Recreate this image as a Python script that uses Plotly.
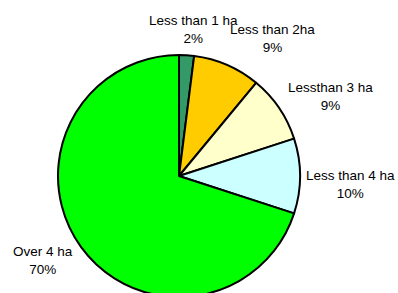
import plotly.graph_objects as go

# Data
categories = ["Less than 1 ha", "Less than 2ha", "Lessthan 3 ha", "Less than 4 ha", "Over 4 ha"]
shares = [2, 9, 9, 10, 70]

# Styling / layout (kept separate from data)
colors = ["#339966", "#FFCC00", "#FFFFCC", "#CCFFFF", "#00FF00"]
W, H = 398, 297
# label block centres in pixels (x from left, y from top)
label_px = [(193, 29), (272, 39), (330, 96), (350, 184), (43, 260)]

# pie domain (pixels): centre (179,176), radius 121
cx, cy, r = 179, 176, 121
dom_x = [(cx - r) / W, (cx + r) / W]
dom_y = [1 - (cy + r) / H, 1 - (cy - r) / H]

fig = go.Figure(go.Pie(
    labels=categories,
    values=shares,
    sort=False,
    direction="clockwise",
    rotation=0,
    textinfo="none",
    hoverinfo="label+percent",
    marker=dict(colors=colors, line=dict(color="black", width=2)),
    domain=dict(x=dom_x, y=dom_y),
    showlegend=False,
))

total = sum(shares)
for (px, py), cat, v in zip(label_px, categories, shares):
    fig.add_annotation(
        x=px / W, y=1 - py / H, xref="paper", yref="paper",
        text=f"{cat}<br>{round(100 * v / total)}%",
        showarrow=False, align="center",
        xanchor="center", yanchor="middle",
        font=dict(family="Liberation Sans, Arial, sans-serif", size=13.5, color="black"),
    )

fig.update_layout(
    width=W, height=H,
    margin=dict(l=0, r=0, t=0, b=0),
    paper_bgcolor="white",
    plot_bgcolor="white",
)

fig.write_html(
    "out.html",
    config={"displayModeBar": False},
    post_script="document.body.style.margin='0';document.body.style.overflow='hidden';document.documentElement.style.overflow='hidden';",
)
